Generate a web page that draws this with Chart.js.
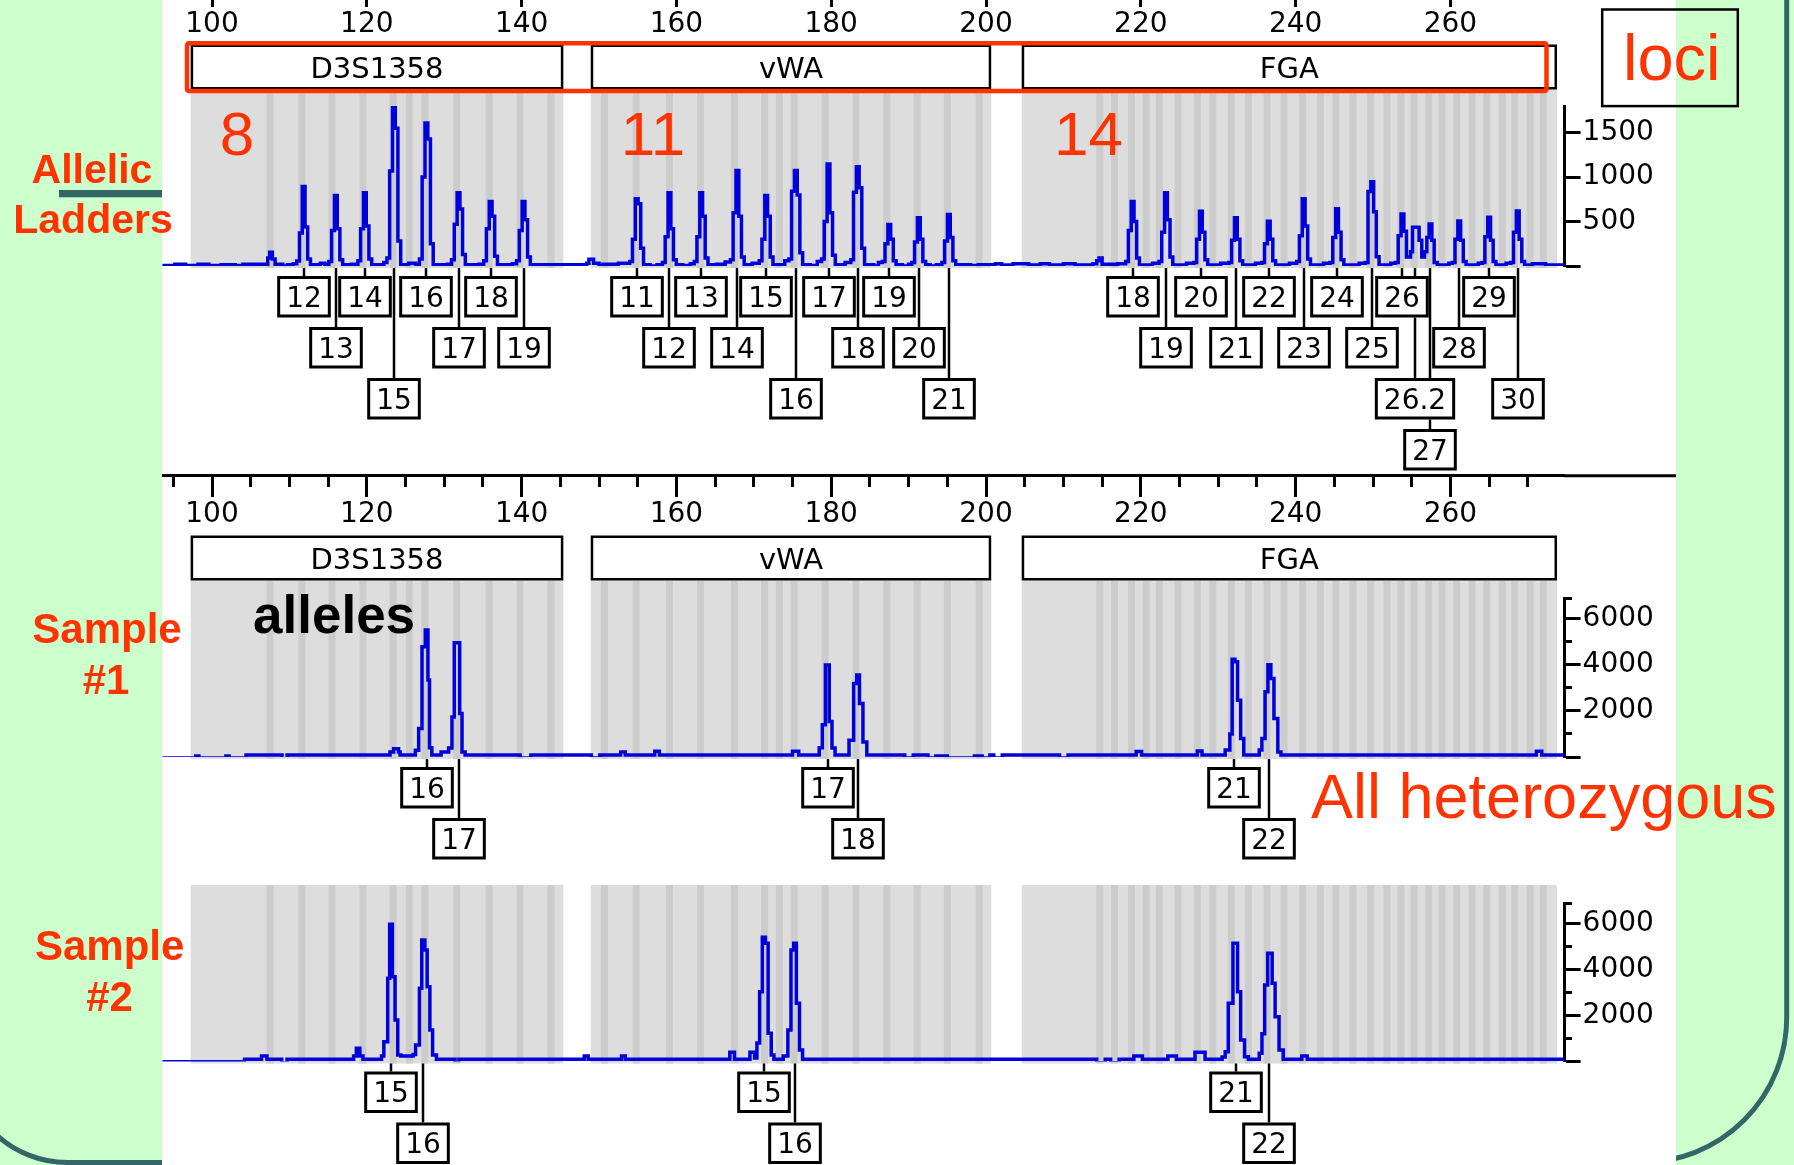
<!DOCTYPE html>
<html>
<head>
<meta charset="utf-8">
<script src="https://cdn.jsdelivr.net/npm/chart.js"></script>
<style>
  html, body { margin:0; padding:0; width:1794px; height:1165px; overflow:hidden; background:#CCFFCC; }
  .abs { position:absolute; left:0; top:0; }
  #panel { position:absolute; left:162px; top:0; width:1514px; height:1165px; background:#FFFFFF; }
  #chart { position:absolute; left:162px; top:0; width:1514px; height:1165px; }
</style>
</head>
<body>
<svg class="abs" width="1794" height="1165">
  <path d="M 1786.7 -10 L 1786.7 1017.5 A 145 145 0 0 1 1641.7 1162.5 L 67 1162.5 A 104 104 0 0 1 -37 1058.5 L -37 -10" fill="none" stroke="#336666" stroke-width="5"/>
  <rect x="59" y="190" width="106" height="7.3" fill="#336666"/>
</svg>
<div id="panel"></div>
<canvas id="chart" width="1514" height="1165"></canvas>
<svg class="abs" width="1794" height="1165" style="pointer-events:none">
  <g font-family="'Liberation Sans', Arial, sans-serif" fill="#FF3300">
    <text x="92" y="183" font-size="41" font-weight="bold" text-anchor="middle">Allelic</text>
    <text x="93" y="233" font-size="41" font-weight="bold" text-anchor="middle">Ladders</text>
    <text x="107" y="643" font-size="42" font-weight="bold" text-anchor="middle">Sample</text>
    <text x="106" y="694" font-size="42" font-weight="bold" text-anchor="middle">#1</text>
    <text x="109.7" y="960" font-size="42" font-weight="bold" text-anchor="middle">Sample</text>
    <text x="109.5" y="1011" font-size="42" font-weight="bold" text-anchor="middle">#2</text>
    <text x="237" y="155" font-size="62" text-anchor="middle">8</text>
    <text x="653" y="155" font-size="62" text-anchor="middle">11</text>
    <text x="1088.6" y="155" font-size="62" text-anchor="middle">14</text>
    <text x="1623" y="80" font-size="65">loci</text>
    <text x="1311" y="818" font-size="63">All heterozygous</text>
  </g>
  <text x="253" y="633" font-family="'Liberation Sans', Arial, sans-serif" font-size="53" font-weight="bold" fill="#000">alleles</text>
  <rect x="187" y="43.2" width="1359.5" height="47.8" rx="2" fill="none" stroke="#FF3300" stroke-width="4.5"/>
  <rect x="1602.2" y="9.5" width="135.6" height="96.6" fill="none" stroke="#000" stroke-width="2.5"/>
  <line x1="1564" y1="475.7" x2="1676" y2="475.7" stroke="#000" stroke-width="3"/>
</svg>
<script>
// ================= DATA =================
const lociNames = ['D3S1358', 'vWA', 'FGA'];
const lociStart = [97.24, 148.93, 204.61];
const lociEnd   = [145.39, 200.67, 273.77];

const binsD3S1358 = [107.5, 111.6, 115.5, 119.5, 123.4, 125.5, 127.5, 131.6, 135.8, 139.8, 143.8];
const binsVWA = [150.7, 154.8, 159.1, 163.1, 167.5, 171.4, 173.3, 175.2, 179.2, 183.2, 187.2, 191.1, 195.0, 199.1];
const binsFGA = [214.7, 216.6, 218.8, 220.7, 222.4, 224.8, 227.3, 229.3, 231.7, 233.9, 236.3, 238.5, 240.9, 243.2,
                 245.2, 247.4, 249.7, 251.8, 253.6, 255.3, 257.2, 258.9, 260.8, 262.8, 264.7, 266.7, 268.3, 270.3, 272.0];

const xMajorTicks = [100, 120, 140, 160, 180, 200, 220, 240, 260];
const xMinorTicks = [95, 100, 105, 110, 115, 120, 125, 130, 135, 140, 145, 150, 155, 160, 165, 170, 175, 180,
                     185, 190, 195, 200, 205, 210, 215, 220, 225, 230, 235, 240, 245, 250, 255, 260, 265, 270];
const ladderYTicks = [0, 500, 1000, 1500];
const sampleYTicks = [0, 1000, 2000, 3000, 4000, 5000, 6000, 6870];

// trace samples: [size (bp), signal (RFU)]
const ladderTrace = [
  [93.6,5],[95.2,20],[96.6,5],[98.2,20],[99.6,5],[101.2,15],[103.0,5],[104.0,20],
  [107.2,90],[107.45,154],[107.8,80],[108.15,20],[109.15,0],[109.75,15],[110.5,25],
  [110.95,55],[111.3,370],[111.66,894],[112.02,440],[112.36,80],[112.72,15],[114.0,30],[114.6,15],
  [115.1,50],[115.45,400],[115.82,793],[116.18,420],[116.52,70],[116.88,15],[118.0,20],
  [118.85,60],[119.2,420],[119.57,823],[119.93,450],[120.27,80],[120.63,15],[121.8,15],[122.2,40],
  [122.6,90],[122.95,1070],[123.32,1790],[123.68,1550],[124.02,280],[124.38,15],[125.4,30],[126.3,15],
  [126.8,80],[127.15,1000],[127.52,1609],[127.88,1430],[128.22,250],[128.58,15],[130.4,20],
  [130.95,70],[131.3,470],[131.67,823],[132.03,640],[132.37,130],[132.73,15],[134.5,20],
  [135.1,60],[135.45,420],[135.82,726],[136.18,560],[136.52,110],[136.88,15],[138.8,25],
  [139.35,60],[139.7,400],[140.07,726],[140.43,520],[140.77,100],[141.13,15],
  [145.5,15],[148.4,30],[148.7,75],[149.3,30],[150.0,5],[150.5,20],[152.5,30],
  [153.97,50],[154.32,300],[154.69,756],[155.05,700],[155.39,200],[155.75,15],[156.6,0],[157.5,15],
  [158.2,40],[158.55,330],[158.92,823],[159.28,420],[159.62,70],[159.98,15],[160.8,5],[161.8,25],
  [162.3,50],[162.65,330],[163.02,823],[163.38,560],[163.72,90],[164.08,15],[165.2,20],[166.3,45],
  [166.98,70],[167.33,600],[167.7,1073],[168.06,560],[168.4,100],[168.76,15],[169.8,30],
  [170.7,60],[171.05,300],[171.42,793],[171.78,560],[172.12,100],[172.48,15],[173.2,15],[174.0,60],
  [174.53,80],[174.88,840],[175.25,1073],[175.61,800],[175.95,150],[176.31,15],[177.3,5],[178.2,50],
  [178.75,80],[179.1,500],[179.47,1147],[179.83,600],[180.17,120],[180.53,15],[181.8,40],
  [182.53,70],[182.88,830],[183.25,1117],[183.61,880],[183.95,200],[184.31,15],[185.5,0],[186.1,40],
  [186.6,50],[186.95,250],[187.32,466],[187.68,300],[188.02,60],[188.38,15],[189.2,0],[190.0,20],
  [190.42,40],[190.77,270],[191.14,544],[191.5,300],[191.84,50],[192.2,15],[192.8,0],[193.6,15],
  [194.3,40],[194.65,280],[195.02,578],[195.38,320],[195.72,60],[196.08,15],
  [198.0,5],[199.0,15],[201.2,25],[202.0,10],[203.5,25],[205.5,10],[207.0,25],[208.2,10],[210.0,25],
  [211.5,10],[213.8,25],[214.3,60],[214.6,90],[215.0,20],[217.0,25],
  [218.04,50],[218.39,400],[218.76,726],[219.12,500],[219.46,90],[219.82,10],[221.5,30],
  [222.35,50],[222.7,380],[223.07,823],[223.43,520],[223.77,100],[224.13,10],[225.9,30],
  [226.86,40],[227.21,300],[227.58,615],[227.94,380],[228.28,70],[228.64,10],[230.3,30],
  [231.38,40],[231.73,290],[232.1,544],[232.46,300],[232.8,60],[233.16,10],[234.8,30],
  [235.63,40],[235.98,250],[236.35,503],[236.71,300],[237.05,60],[237.41,10],[239.2,30],
  [240.14,50],[240.49,340],[240.86,756],[241.22,450],[241.56,80],[241.92,10],[243.6,30],
  [244.45,40],[244.8,320],[245.17,645],[245.53,380],[245.87,70],[246.23,10],[248.2,30],
  [249.0,40],[249.35,837],[249.72,949],[250.08,611],[250.42,105],[250.78,10],[252.3,30],
  [252.9,40],[253.25,340],[253.62,586],[253.98,390],[254.32,100],[254.6,100],[254.85,160],
  [255.1,436],[255.95,290],[256.3,100],[256.65,160],
  [256.95,320],[257.25,473],[257.6,290],[257.9,40],[258.3,10],[259.8,30],
  [260.24,40],[260.59,300],[260.96,507],[261.32,290],[261.66,50],[262.02,10],[263.6,30],
  [264.1,40],[264.45,330],[264.82,548],[265.18,290],[265.52,50],[265.88,10],[267.2,30],
  [267.8,40],[268.15,380],[268.52,619],[268.88,300],[269.22,50],[269.58,10],
  [270.6,25],[272.3,10],[274.75,10]
];

const sample1Trace = [
  [93.6,-40],[97.9,40],[98.3,-40],[101.8,40],[102.2,-40],[104.4,90],[109.05,-130],[109.7,90],
  [123.0,217],[123.46,360],[124.1,217],[124.3,90],
  [126.27,290],[126.7,1228],[127.13,4772],[127.56,5497],[127.9,3327],[128.1,404],[128.4,90],
  [129.6,217],[130.57,390],[131.0,1735],[131.3,4946],[132.0,1879],[132.3,217],[132.7,90],
  [139.8,-40],[141.2,90],[149.0,-40],[150.1,90],[152.8,220],[153.4,90],[157.2,250],[157.8,90],
  [175.0,250],[175.8,90],
  [178.45,400],[178.85,1400],[179.25,3978],[179.75,1540],[180.1,390],[180.5,90],
  [182.3,725],[182.9,3180],[183.3,3544],[183.65,2312],[184.1,650],[184.6,90],
  [189.5,-40],[190.6,90],[192.5,-40],[193.5,40],[195.0,-40],[198.5,40],[199.5,-40],[200.5,90],
  [201.0,-40],[202.1,90],[209.5,-40],[210.6,90],[219.4,240],[220.1,90],[227.3,260],[227.9,90],
  [230.9,300],[231.5,1000],[231.8,4230],[232.15,4121],[232.5,2460],[232.9,795],[233.3,90],
  [235.3,300],[235.64,795],[236.05,2820],[236.42,3987],[236.8,3400],[237.2,1665],[237.7,217],[238.1,90],
  [271.1,250],[271.8,90],[274.75,90]
];

const sample2Trace = [
  [93.6,-10],[104.2,95],[106.4,240],[107.1,95],[109.0,-60],[109.7,95],
  [118.3,240],[118.65,573],[119.1,240],[119.5,95],
  [121.9,240],[122.2,860],[122.7,3613],[122.95,5957],[123.3,3682],[123.65,1802],[124.0,282],[124.4,240],
  [126.0,300],[126.3,716],[126.8,3178],[127.1,5276],[127.5,4842],[127.8,3250],[128.15,1368],[128.5,282],[129.0,95],
  [131.4,-60],[131.9,95],[148.1,240],[148.6,95],[152.9,240],[153.4,95],
  [166.9,400],[167.5,95],[169.5,400],[170.1,150],
  [170.4,800],[170.75,3031],[171.1,5393],[171.5,5132],[171.85,1224],[172.25,282],[172.6,95],
  [173.8,240],[174.4,1368],[174.8,4842],[175.15,5132],[175.5,2527],[175.9,499],[176.3,95],
  [214.3,-52],[215.4,95],[216.1,-52],[217.2,95],[219.1,240],[220.2,95],[223.5,240],[224.6,95],[227.0,400],[228.3,95],
  [230.5,200],[230.9,425],[231.3,2527],[231.9,5132],[232.5,3031],[232.9,934],[233.4,210],[233.9,95],
  [235.3,355],[235.65,1200],[236.0,3321],[236.39,4698],[236.97,3394],[237.35,1946],[237.86,499],[238.4,95],
  [240.8,240],[241.5,95],[274.75,95]
];

// allele calls: name, size (bp), label row
const ladderAlleles = ['12','13','14','15','16','17','18','19',
  '11','12','13','14','15','16','17','18','19','20','21',
  '18','19','20','21','22','23','24','25','26','26.2','27','28','29','30'];
const ladderAlleleBp = [111.84,116.0,119.75,123.5,127.7,131.85,136.0,140.25,
  154.87,159.1,163.2,167.88,171.6,175.43,179.65,183.43,187.5,191.32,195.2,
  218.94,223.25,227.76,232.28,236.53,241.04,245.35,249.9,253.8,255.4,257.42,261.14,265.0,268.7];
const ladderAlleleRow = [1,2,1,3,1,2,1,2, 1,2,1,2,1,3,1,2,1,2,3, 1,2,1,2,1,2,1,2,1,3,4,2,1,3];

const sample1Alleles = ['16','17','17','18','21','22'];
const sample1AlleleBp = [127.77,131.86,179.6,183.4,232.0,236.6];
const sample1AlleleRow = [1,2,1,2,1,2];

const sample2Alleles = ['15','16','15','16','21','22'];
const sample2AlleleBp = [123.1,127.3,171.3,175.3,232.3,236.6];
const sample2AlleleRow = [1,2,1,2,1,2];

// ================= CHART =================
const X_MIN = 93.54, X_MAX = 274.75;
const FONT = '"DejaVu Sans", sans-serif';
const AXIS_W = 111.4;
const toXY = arr => arr.map(p => ({x: p[0], y: p[1]}));

function fixWidth(s) { s.width = AXIS_W; s.paddingTop = 0; s.paddingBottom = 0; s.paddingLeft = 0; s.paddingRight = 0; }
function zeroPad(s) { s.paddingTop = 0; s.paddingBottom = 0; s.paddingLeft = 0; s.paddingRight = 0; }

const spacer = (w, sw) => ({
  type: 'linear', axis: 'y', position: 'right', stack: 'panels', stackWeight: sw, weight: w,
  min: 0, max: 1, display: true,
  grid: {display: false}, border: {display: false}, ticks: {display: false},
  afterFit: fixWidth
});

const valueAxis = (w, sw, max, tickList, isMajor, labelOf) => ({
  type: 'linear', axis: 'y', position: 'right', stack: 'panels', stackWeight: sw, weight: w,
  min: 0, max: max, bounds: 'data',
  grid: {display: true, drawOnChartArea: false, drawTicks: true, tickLength: 16, tickWidth: 3, tickColor: '#000',
         tickBorderDash: c => (c.tick && !isMajor(c.tick.value)) ? [6, 100] : []},
  border: {display: true, color: '#000', width: 3},
  ticks: {display: true, padding: 2, color: '#000', font: {family: FONT, size: 28}, autoSkip: false,
          callback: v => labelOf(v)},
  afterBuildTicks: s => { s.ticks = tickList.map(v => ({value: v})); },
  afterFit: fixWidth
});

const xAxis = (pos, tickList, isMajor) => ({
  type: 'linear', axis: 'x', position: pos, min: X_MIN, max: X_MAX, bounds: 'data',
  grid: {display: true, drawOnChartArea: false, drawTicks: true, tickLength: 20, tickWidth: 3, tickColor: '#000',
         tickBorderDash: c => (c.tick && !isMajor(c.tick.value)) ? [10, 100] : []},
  border: {display: true, color: '#000', width: 3},
  ticks: {padding: 2.5, color: '#000', font: {family: FONT, size: 28}, autoSkip: false, maxRotation: 0, minRotation: 0,
          callback: v => (v % 20 === 0 ? String(v) : '')},
  afterBuildTicks: s => { s.ticks = tickList.map(v => ({value: v})); },
  afterFit: zeroPad
});

const panelsDef = [
  {y: 'yA', loci: true,  names: ladderAlleles,  bp: ladderAlleleBp,  rows: ladderAlleleRow},
  {y: 'yB', loci: true,  names: sample1Alleles, bp: sample1AlleleBp, rows: sample1AlleleRow},
  {y: 'yC', loci: false, names: sample2Alleles, bp: sample2AlleleBp, rows: sample2AlleleRow}
];
const allBins = [binsD3S1358, binsVWA, binsFGA];

const electroPlugin = {
  id: 'electro',
  beforeDatasetsDraw(chart) {
    const ctx = chart.ctx, xs = chart.scales.x;
    ctx.save();
    for (const p of panelsDef) {
      const base = chart.scales[p.y].getPixelForValue(0);
      const gTop = base - 176.5, gBot = base + 2;
      for (let i = 0; i < lociNames.length; i++) {
        const x0 = xs.getPixelForValue(lociStart[i]), x1 = xs.getPixelForValue(lociEnd[i]);
        ctx.fillStyle = '#DDDDDD';
        ctx.fillRect(x0, gTop, x1 - x0, gBot - gTop);
        ctx.fillStyle = '#CCCCCC';
        for (const b of allBins[i]) {
          const b0 = xs.getPixelForValue(b - 0.45), b1 = xs.getPixelForValue(b + 0.45);
          ctx.fillRect(b0, gTop, b1 - b0, gBot - gTop);
        }
        if (p.loci) {
          const top = base - 221.5, h = 45;
          ctx.fillStyle = '#FFFFFF';
          ctx.fillRect(x0, top, x1 - x0, h);
          ctx.strokeStyle = '#000'; ctx.lineWidth = 2.5;
          ctx.strokeRect(x0 + 1.25, top + 1.25, x1 - x0 - 2.5, h - 2.5);
          ctx.fillStyle = '#000';
          ctx.font = '29px ' + FONT;
          ctx.textAlign = 'center'; ctx.textBaseline = 'alphabetic';
          ctx.fillText(lociNames[i], (x0 + x1) / 2, top + h / 2 + 10.5);
        }
      }
    }
    ctx.restore();
  },
  afterDatasetsDraw(chart) {
    const ctx = chart.ctx, xs = chart.scales.x;
    ctx.save();
    ctx.font = '28px ' + FONT;
    ctx.textAlign = 'center'; ctx.textBaseline = 'alphabetic';
    for (const p of panelsDef) {
      const base = chart.scales[p.y].getPixelForValue(0);
      // leader lines first, so the label boxes sit on top of them
      ctx.strokeStyle = '#000'; ctx.lineWidth = 2.5;
      for (let i = 0; i < p.names.length; i++) {
        const px = Math.round(xs.getPixelForValue(p.bp[i]));
        const top = base + 10 + 51 * (p.rows[i] - 1);
        ctx.beginPath(); ctx.moveTo(px, base + 2); ctx.lineTo(px, top + 2); ctx.stroke();
      }
      for (let i = 0; i < p.names.length; i++) {
        const px = Math.round(xs.getPixelForValue(p.bp[i]));
        const top = base + 10 + 51 * (p.rows[i] - 1);
        const w = ctx.measureText(p.names[i]).width + 18, h = 41.5;
        ctx.fillStyle = '#FFFFFF';
        ctx.fillRect(px - w / 2, top, w, h);
        ctx.strokeStyle = '#000'; ctx.lineWidth = 3;
        ctx.strokeRect(px - w / 2 + 1.5, top + 1.5, w - 3, h - 3);
        ctx.fillStyle = '#000';
        ctx.fillText(p.names[i], px, top + h / 2 + 10.2);
      }
    }
    ctx.restore();
  }
};

const traceStyle = {borderColor: '#0000DD', borderWidth: 3.5, pointRadius: 0, stepped: true, fill: false, tension: 0,
                    borderCapStyle: 'butt', borderJoinStyle: 'miter'};

new Chart(document.getElementById('chart'), {
  type: 'line',
  data: {
    datasets: [
      Object.assign({label: 'Allelic ladders', data: toXY(ladderTrace), xAxisID: 'x', yAxisID: 'yA'}, traceStyle),
      Object.assign({label: 'Sample #1', data: toXY(sample1Trace), xAxisID: 'x', yAxisID: 'yB'}, traceStyle),
      Object.assign({label: 'Sample #2', data: toXY(sample2Trace), xAxisID: 'x', yAxisID: 'yC'}, traceStyle)
    ]
  },
  options: {
    responsive: false, animation: false, devicePixelRatio: 1, events: [],
    layout: {padding: 0, autoPadding: false},
    plugins: {legend: {display: false}, tooltip: {enabled: false}, title: {display: false}},
    scales: {
      x:  xAxis({yA: 3155.6}, xMajorTicks, v => true),
      x2: xAxis({yB: 12169.6}, xMinorTicks, v => v % 20 === 0),
      pad0: spacer(1, 106),
      yA: valueAxis(2, 160, 1800, ladderYTicks, v => true, v => (v === 0 ? '' : String(v))),
      pad1: spacer(3, 332.2),
      yB: valueAxis(4, 158.8, 6870, sampleYTicks, v => v % 2000 === 0, v => ((v > 0 && v % 2000 === 0) ? String(v) : '')),
      pad2: spacer(5, 146.3),
      yC: valueAxis(6, 158.2, 6870, sampleYTicks, v => v % 2000 === 0, v => ((v > 0 && v % 2000 === 0) ? String(v) : '')),
      pad3: spacer(7, 103.5)
    }
  },
  plugins: [electroPlugin]
});
</script>
</body>
</html>
